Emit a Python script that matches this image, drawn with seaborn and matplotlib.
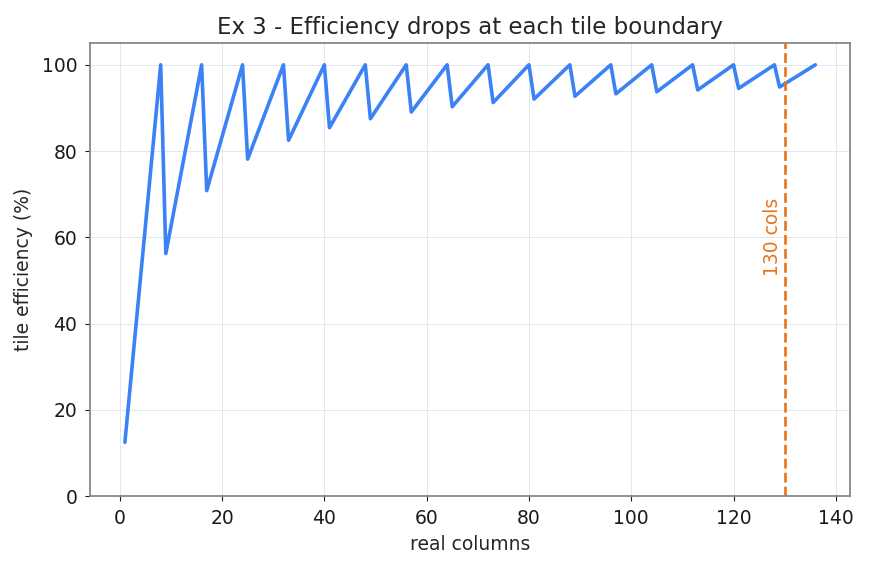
import pandas as pd
import matplotlib
matplotlib.use('Agg')
import matplotlib.pyplot as plt
import seaborn as sns

# columns at each tile edge (start of new tile / end of tile)
cols = [1, 8, 9, 16, 17, 24, 25, 32, 33, 40, 41, 48, 49, 56, 57, 64, 65, 72,
        73, 80, 81, 88, 89, 96, 97, 104, 105, 112, 113, 120, 121, 128, 129, 136]
efficiency = [12.5, 100, 56.25, 100, 70.83, 100, 78.13, 100, 82.5, 100, 85.42, 100,
              87.5, 100, 89.06, 100, 90.28, 100, 91.25, 100, 92.05, 100, 92.71, 100,
              93.27, 100, 93.75, 100, 94.17, 100, 94.53, 100, 94.85, 100]
marker_col = 130

df = pd.DataFrame({'cols': cols, 'eff': efficiency})

sns.set_style('ticks')
fig, ax = plt.subplots(figsize=(8.69, 5.69), dpi=100)
sns.lineplot(data=df, x='cols', y='eff', color='#3b82f6', linewidth=2.6, ax=ax)
ax.axvline(marker_col, color='#e8741a', linestyle='--', linewidth=1.9)
ax.text(marker_col - 0.5, 60, f'{marker_col} cols', rotation=90, color='#e8741a',
        ha='right', va='center', fontsize=13.5)

ax.set_ylim(0, 105)
ax.grid(True, color='#e3e8ee', linewidth=0.7)
for s in ax.spines.values():
    s.set_color('#888888')
    s.set_linewidth(1.3)
ax.tick_params(labelsize=13.5, colors='#1a1a1a', length=3.5, pad=6)
ax.set_xlabel('real columns', fontsize=13.5, labelpad=5)
ax.set_ylabel('tile efficiency (%)', fontsize=13.5, labelpad=6)
ax.set_title('Ex 3 - Efficiency drops at each tile boundary', fontsize=16.5, pad=7)

plt.subplots_adjust(left=0.104, right=0.978, top=0.924, bottom=0.128)
plt.savefig('out.png', dpi=100)
